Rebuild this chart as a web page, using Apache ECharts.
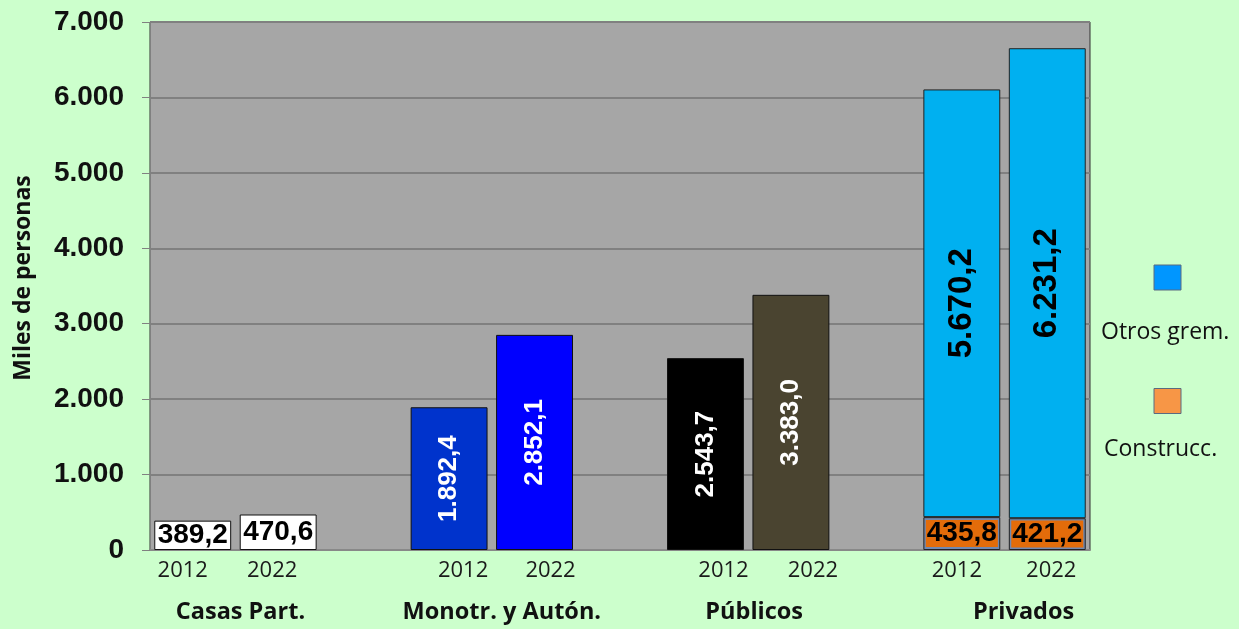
<!DOCTYPE html>
<html>
<head>
<meta charset="utf-8">
<script src="https://cdn.jsdelivr.net/npm/echarts@6/dist/echarts.min.js"></script>
<style>
  html, body { margin: 0; background: #ccffcc; }
  #chart { width: 1239px; height: 629px; }
</style>
</head>
<body>
<div id="chart"></div>
<script>
// categorías del eje x (las vacías separan los grupos)
var years = ['2012', '2022', '', '2012', '2022', '', '2012', '2022', '', '2012', '2022'];
var groupNames = ['', 'Casas Part.', '', '', 'Monotr. y Autón.', '', '', 'Públicos', '', '', 'Privados', ''];
// miles de personas
var sectorValues = [389.2, 470.6, null, 1892.4, 2852.1, null, 2543.7, 3383.0, null, null, null];
var construccValues = [null, null, null, null, null, null, null, null, null, 435.8, 421.2];
var otrosValues = [null, null, null, null, null, null, null, null, null, 5670.2, 6231.2];

// estilos
var sectorColors = ['#ffffff', '#ffffff', null, '#0033cc', '#0000ff', null, '#000000', '#4a4430'];
// desplazamiento horizontal (px) de los rótulos, como en el original
var yearShift = [-10, -6, 0, 14, 16, 0, 18, 22, 0, -5, 4];
var groupShift = [0, 5, 0, 0, 10, 0, 0, 6, 0, 0, 19, 0];

// formato español: 5.670,2
function fmt(v, dec) {
  var parts = v.toFixed(dec).split('.');
  parts[0] = parts[0].replace(/\B(?=(\d{3})+(?!\d))/g, '.');
  return parts.join(',');
}

function shiftRich(shifts, base) {
  var rich = {};
  shifts.forEach(function (s, i) {
    var st = Object.assign({}, base);
    st.padding = s >= 0 ? [0, 0, 0, 2 * s] : [0, -2 * s, 0, 0];
    rich['s' + i] = st;
  });
  return rich;
}

var yearFont = { fontFamily: 'Open Sans', fontSize: 22, color: '#1a1a1a' };
var groupFont = { fontFamily: 'Open Sans', fontWeight: 'bold', fontSize: 23.5, color: '#111' };

var sectorData = sectorValues.map(function (v, i) {
  if (v == null) return null;
  var casas = i < 2;
  return {
    value: v,
    itemStyle: { color: sectorColors[i] },
    label: casas ? { rotate: 0, color: '#000', fontSize: 28 } : { rotate: 90, color: '#fff', fontSize: 26 }
  };
});

// leyenda: texto debajo del icono
function legendBox(name, color, left, top, lineH, shiftX) {
  return {
    orient: 'vertical',
    left: left,
    top: top,
    itemWidth: 27,
    itemHeight: 25,
    icon: 'rect',
    selectedMode: false,
    formatter: function (n) { return '\n\n' + n; },
    textStyle: { fontFamily: 'Open Sans', fontSize: 23, color: '#111', lineHeight: lineH, padding: [0, shiftX, 0, -shiftX] },
    data: [{ name: name, itemStyle: { color: color, borderColor: '#5a6b80', borderWidth: 1 } }]
  };
}

var myChart = echarts.init(document.getElementById('chart'));
myChart.setOption({
  backgroundColor: '#ccffcc',
  animation: false,
  grid: {
    left: 150, right: 149, top: 22, bottom: 79,
    show: true,
    backgroundColor: '#a6a6a6',
    borderColor: '#303030',
    borderWidth: 1
  },
  legend: [
    legendBox('Otros grem.', '#0096ff', 1096, 190, 55, 85),
    legendBox('Construcc.', '#f79646', 1099, 324, 48, 82)
  ],
  xAxis: [
    {
      type: 'category',
      data: years,
      axisLine: { lineStyle: { color: '#888', width: 2 } },
      axisTick: { show: false },
      axisLabel: Object.assign({
        interval: 0, margin: 10,
        rich: shiftRich(yearShift, yearFont),
        formatter: function (v, i) { return v ? '{s' + i + '|' + v + '}' : ''; }
      }, yearFont)
    },
    {
      type: 'category',
      data: groupNames,
      boundaryGap: false,
      position: 'bottom',
      axisLine: { show: false },
      axisTick: { show: false },
      axisLabel: Object.assign({
        interval: 0, margin: 50,
        rich: shiftRich(groupShift, groupFont),
        formatter: function (v, i) { return v ? '{s' + i + '|' + v + '}' : ''; }
      }, groupFont)
    }
  ],
  yAxis: {
    type: 'value',
    min: 0, max: 7000, interval: 1000,
    name: 'Miles de personas',
    nameLocation: 'middle',
    nameGap: 115,
    nameTextStyle: { fontFamily: 'Open Sans', fontWeight: 'bold', fontSize: 23, color: '#111', padding: [0, 0, 0, 16] },
    axisLine: { show: true, lineStyle: { color: '#808080' } },
    axisTick: { show: true, length: 8, lineStyle: { color: '#808080' } },
    splitLine: { lineStyle: { color: '#808080', width: 2 } },
    axisLabel: {
      margin: 26,
      fontFamily: 'Liberation Sans', fontWeight: 'bold', fontSize: 28, color: '#111',
      formatter: function (v) { return fmt(v, 0); }
    }
  },
  series: [
    {
      name: 'Sectores',
      type: 'bar',
      stack: 'a',
      barCategoryGap: '10%',
      data: sectorData,
      itemStyle: { borderColor: '#111', borderWidth: 1 },
      label: {
        show: true, position: 'inside',
        fontFamily: 'Liberation Sans', fontWeight: 'bold',
        formatter: function (p) { return fmt(p.value, 1); }
      }
    },
    {
      name: 'Construcc.',
      type: 'bar',
      stack: 'a',
      data: construccValues,
      itemStyle: { color: '#7189b0', borderColor: '#222', borderWidth: 1 },
      label: {
        show: true, position: 'inside',
        fontFamily: 'Liberation Sans', fontWeight: 'bold', fontSize: 28, color: '#000',
        backgroundColor: '#e36c0a', padding: [0, 1], lineHeight: 27,
        formatter: function (p) { return fmt(p.value, 1); }
      }
    },
    {
      name: 'Otros grem.',
      type: 'bar',
      stack: 'a',
      data: otrosValues,
      itemStyle: { color: '#00b0f0', borderColor: '#222', borderWidth: 1 },
      label: {
        show: true, position: 'inside', rotate: 90,
        fontFamily: 'Liberation Sans', fontWeight: 'bold', fontSize: 33, color: '#000',
        formatter: function (p) { return fmt(p.value, 1); }
      }
    }
  ]
});
</script>
</body>
</html>
